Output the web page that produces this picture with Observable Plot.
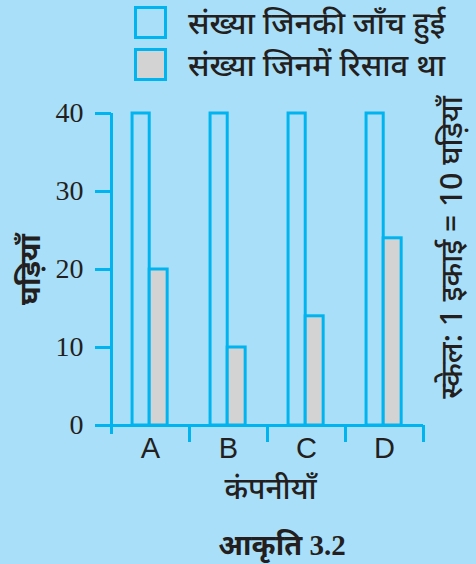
<!DOCTYPE html>
<html>
<head>
<meta charset="utf-8">
<script src="https://cdn.jsdelivr.net/npm/d3@7"></script>
<script src="https://cdn.jsdelivr.net/npm/@observablehq/plot@0.6"></script>
<style>
  html, body { margin: 0; padding: 0; background: #aadff9; width: 476px; height: 564px; overflow: hidden; }
  #wrap { position: relative; width: 476px; height: 564px; font-family: "Noto Sans", "DejaVu Sans", sans-serif; color: #231f20; }
  .legend { position: absolute; left: 134px; top: 6px; }
  .row { display: flex; align-items: center; height: 33px; margin-bottom: 9px; }
  .sw { width: 27px; height: 27px; border: 3px solid #00b4f0; box-sizing: content-box; }
  .lab { margin-left: 21px; font-size: 31px; line-height: 33px; white-space: nowrap; font-weight: 500; }
  #chart { position: absolute; left: 0; top: 88px; }
  .caption { position: absolute; top: 524px; left: 0; width: 476px; text-align: center; font-size: 29px; font-weight: bold; font-family: "Liberation Serif", "Noto Sans", serif; padding-left: 88px; box-sizing: border-box; }
</style>
</head>
<body>
<div id="wrap">
  <div class="legend" id="legend"></div>
  <div id="chart"></div>
  <div class="caption" id="caption"></div>
</div>
<script>
const companies = ["A", "B", "C", "D"];
const checked = [40, 40, 40, 40];
const leaked = [20, 10, 14, 24];
const seriesNames = ["संख्या जिनकी जाँच हुई", "संख्या जिनमें रिसाव था"];
const seriesFills = ["none", "#d3d3d3"];
const yTicks = [0, 10, 20, 30, 40];
const yLabel = "घड़ियाँ";
const xLabel = "कंपनीयाँ";
const scaleNote = "स्केल: 1 इकाई = 10 घड़ियाँ";
const captionText = "आकृति 3.2";

const cyan = "#00b4f0";
const ink = "#231f20";

const table = companies.map((c, i) => ({ company: c, i, checked: checked[i], leaked: leaked[i] }));

// legend
const legend = document.getElementById("legend");
seriesNames.forEach((name, k) => {
  const row = document.createElement("div");
  row.className = "row";
  const sw = document.createElement("div");
  sw.className = "sw";
  sw.style.background = seriesFills[k] === "none" ? "transparent" : seriesFills[k];
  const lab = document.createElement("div");
  lab.className = "lab";
  lab.textContent = name;
  row.appendChild(sw);
  row.appendChild(lab);
  legend.appendChild(row);
});
document.getElementById("caption").textContent = captionText;

const chart = Plot.plot({
  width: 476,
  height: 420,
  marginLeft: 111,
  marginRight: 53,
  marginTop: 25,
  marginBottom: 83,
  style: { background: "transparent", overflow: "visible" },
  x: { type: "linear", domain: [0, companies.length], axis: null },
  y: { domain: [0, 40], axis: null },
  marks: [
    Plot.rectY(table, { x1: d => d.i + 0.27, x2: d => d.i + 0.49, y: "checked", fill: "none", stroke: cyan, strokeWidth: 3 }),
    Plot.rectY(table, { x1: d => d.i + 0.49, x2: d => d.i + 0.72, y: "leaked", fill: seriesFills[1], stroke: cyan, strokeWidth: 3 }),
    Plot.axisY({ ticks: yTicks, tickSize: 16, tickPadding: 12, stroke: cyan, strokeWidth: 3, fill: ink, fontSize: 28, fontFamily: "Liberation Serif, serif", label: null }),
    Plot.axisX({ ticks: d3.range(1, companies.length + 1), tickSize: 17, fill: "none", stroke: cyan, strokeWidth: 3, label: null }),
    Plot.axisX({ ticks: companies.map((c, i) => i + 0.5), tickSize: 0, tickPadding: 12, tickFormat: v => companies[Math.floor(v)], fill: ink, fontSize: 29, fontFamily: "Liberation Sans, Arial, sans-serif", label: null }),
    Plot.ruleX([0], { stroke: cyan, strokeWidth: 3, insetBottom: -9 }),
    Plot.ruleY([0], { stroke: cyan, strokeWidth: 3 }),
    Plot.text([yLabel], { text: d => d, frameAnchor: "left", dx: -81, rotate: -90, textAnchor: "middle", lineAnchor: "middle", fontSize: 29, fontWeight: "bold", fill: ink }),
    Plot.text([xLabel], { text: d => d, frameAnchor: "bottom", dx: 3, dy: 64, textAnchor: "middle", lineAnchor: "middle", fontSize: 30, fontWeight: 500, fill: ink }),
    Plot.text([scaleNote], { text: d => d, frameAnchor: "right", dx: 29, dy: -22, rotate: -90, textAnchor: "middle", lineAnchor: "middle", fontSize: 30, fontWeight: 500, fill: ink })
  ]
});
document.getElementById("chart").appendChild(chart);
</script>
</body>
</html>
